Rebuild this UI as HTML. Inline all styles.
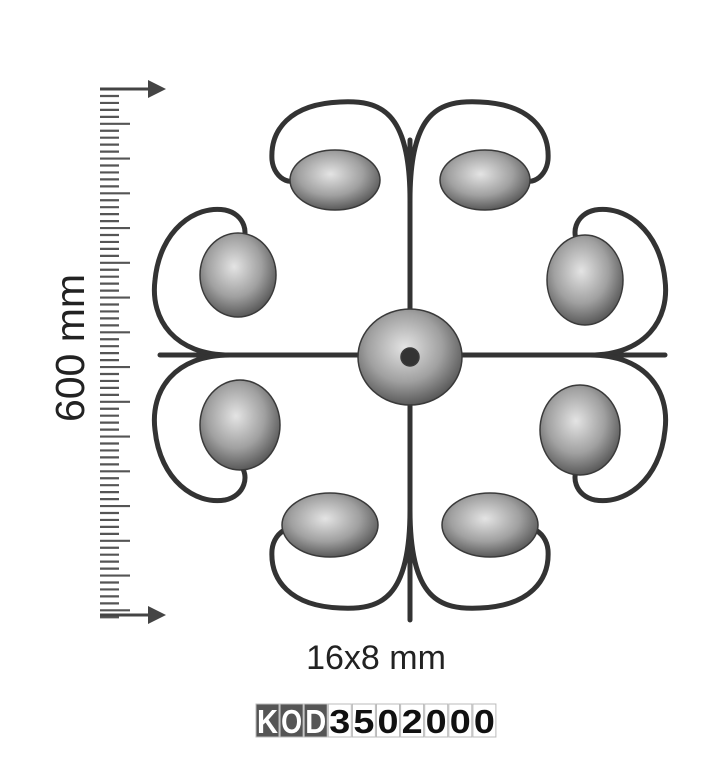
<!DOCTYPE html>
<html><head><meta charset="utf-8"><style>
body{margin:0;background:#fff;width:703px;height:768px;overflow:hidden;font-family:"Liberation Sans",sans-serif}
</style></head><body>
<svg width="703" height="768" viewBox="0 0 703 768">
<defs>
<radialGradient id="lg" cx="0.45" cy="0.4" r="0.6"><stop offset="0" stop-color="#e4e4e4"/><stop offset="0.6" stop-color="#a0a0a0"/><stop offset="1" stop-color="#5a5a5a"/></radialGradient>
</defs>
<g id="ruler" stroke="#555"></g>
<g fill="#444" stroke="#444" stroke-width="3">
<line x1="100" y1="89" x2="150" y2="89"/>
<polygon points="148,80 166,89 148,98" stroke="none"/>
<line x1="100" y1="615" x2="150" y2="615"/>
<polygon points="148,606 166,615 148,624" stroke="none"/>
</g>
<text x="0" y="0" transform="translate(84,348) rotate(-90)" text-anchor="middle" font-size="41" fill="#222">600 mm</text>
<g fill="none" stroke="#333" stroke-width="5" stroke-linecap="round">
<line x1="410" y1="140" x2="410" y2="620"/>
<line x1="160" y1="355" x2="665" y2="355"/>
<g id="q">
<path d="M410,200 C410,110 380,100 340,102 C290,104 270,130 272,160 C274,180 295,190 305,172"/>
<path d="M410,355 L230,355 C175,355 150,320 155,280 C160,230 195,205 225,210 C245,214 250,235 240,245"/>
</g>
<use href="#q" transform="translate(820,0) scale(-1,1)"/>
<use href="#q" transform="translate(0,710) scale(1,-1)"/>
<use href="#q" transform="translate(820,710) scale(-1,-1)"/>
</g>
<g fill="url(#lg)" stroke="#3a3a3a" stroke-width="1.5">
<ellipse cx="335" cy="180" rx="45" ry="30"/>
<ellipse cx="485" cy="180" rx="45" ry="30"/>
<ellipse cx="238" cy="275" rx="38" ry="42"/>
<ellipse cx="585" cy="280" rx="38" ry="45"/>
<ellipse cx="240" cy="425" rx="40" ry="45"/>
<ellipse cx="580" cy="430" rx="40" ry="45"/>
<ellipse cx="330" cy="525" rx="48" ry="32"/>
<ellipse cx="490" cy="525" rx="48" ry="32"/>
<ellipse cx="410" cy="357" rx="52" ry="48"/>
<circle cx="410" cy="357" r="9" fill="#333"/>
</g>
<text x="376" y="669" text-anchor="middle" font-size="34" fill="#222">16x8 mm</text>
<g id="code"></g>
</svg>
<script>
const ticks = 76;
const r = document.getElementById('ruler');
for (let i = 0; i < ticks; i++) {
  const y = 96 + i * 6.95;
  const long = i % 5 === 4;
  const l = document.createElementNS('http://www.w3.org/2000/svg', 'line');
  
  
  l.setAttribute('x1', 100); l.setAttribute('x2', long ? 130 : 119);
  l.setAttribute('y1', y); l.setAttribute('y2', y);
  l.setAttribute('stroke-width', 2.2);
  r.appendChild(l);
}
const chars = ['K','O','D','3','5','0','2','0','0','0'];
const c = document.getElementById('code');
chars.forEach((ch, i) => {
  const x = 256 + i * 24.1;
  const dark = i < 3;
  const rect = document.createElementNS('http://www.w3.org/2000/svg', 'rect');
  
  
  rect.setAttribute('x', x); rect.setAttribute('y', 704);
  rect.setAttribute('width', 23); rect.setAttribute('height', 33);
  rect.setAttribute('fill', dark ? '#555' : '#fff');
  rect.setAttribute('stroke', '#bbb');
  c.appendChild(rect);
  const t = document.createElementNS('http://www.w3.org/2000/svg', 'text');
  
  
  t.setAttribute('x', x + 11.5); t.setAttribute('y', 733);
  t.setAttribute('text-anchor', 'middle');
  t.setAttribute('font-size', '33');
  t.setAttribute('font-weight', 'bold');
  t.setAttribute('textLength', '21');
  t.setAttribute('lengthAdjust', 'spacingAndGlyphs');
  t.setAttribute('fill', dark ? '#fff' : '#111');
  t.textContent = ch;
  c.appendChild(t);
});
</script>
</body></html>
